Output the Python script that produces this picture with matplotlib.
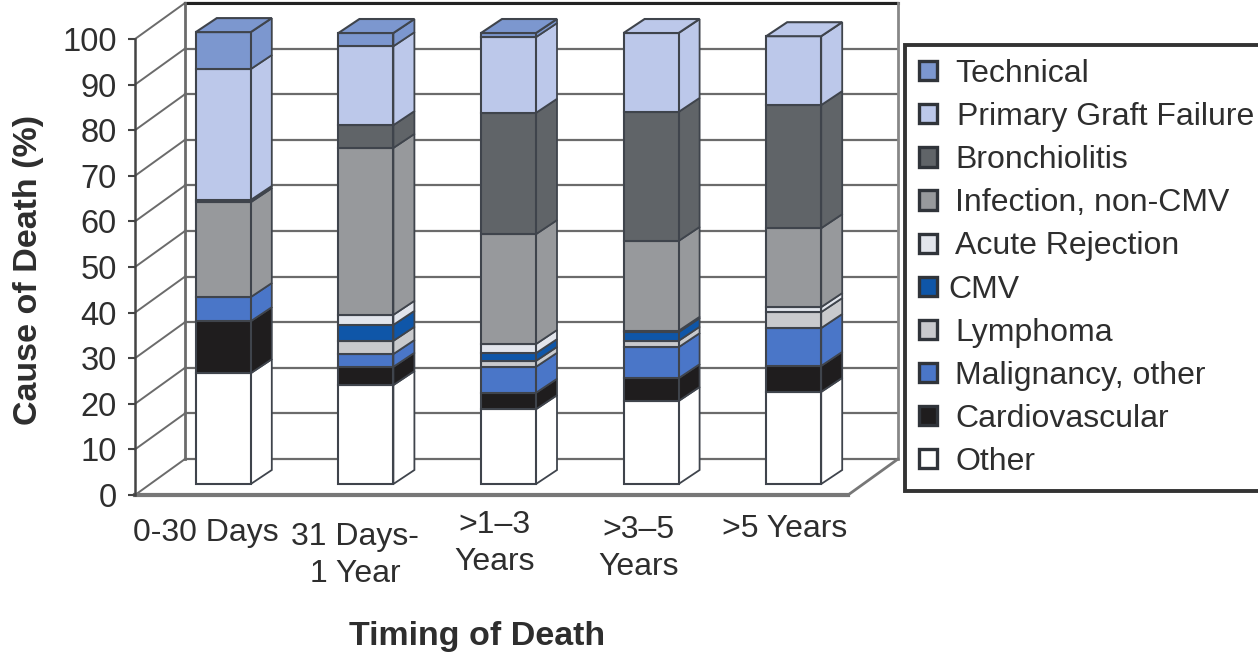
import matplotlib
matplotlib.use("Agg")
import matplotlib.pyplot as plt
import matplotlib.transforms as mtrans
from matplotlib.patches import Patch, Polygon
import numpy as np

plt.rcParams['font.family'] = ['Liberation Sans', 'DejaVu Sans']

categories = ["0-30 Days", "31 Days-\n1 Year", ">1–3\nYears", ">3–5\nYears", ">5 Years"]
other = [24.3, 21.7, 16.4, 18.2, 20.2]
cardiovascular = [11.4, 4.0, 3.6, 5.0, 5.7]
malignancy = [5.3, 2.8, 5.7, 6.8, 8.3]
lymphoma = [0, 2.9, 1.3, 1.4, 3.5]
cmv = [0, 3.5, 1.7, 1.9, 0]
acute = [0, 2.2, 2.0, 0.3, 1.1]
infection = [20.8, 36.6, 24.1, 19.7, 17.3]
bronchiolitis = [0.5, 5.0, 26.6, 28.3, 27.0]
pgf = [28.7, 17.3, 16.6, 17.3, 15.1]
technical = [8.1, 2.9, 0.9, 0, 0]

series = [
    ("Other", other, "#ffffff"),
    ("Cardiovascular", cardiovascular, "#1f1d1e"),
    ("Malignancy, other", malignancy, "#4a76c8"),
    ("Lymphoma", lymphoma, "#c9cacd"),
    ("CMV", cmv, "#0f56a8"),
    ("Acute Rejection", acute, "#e2e5ec"),
    ("Infection, non-CMV", infection, "#97999c"),
    ("Bronchiolitis", bronchiolitis, "#606468"),
    ("Primary Graft Failure", pgf, "#bcc8ea"),
    ("Technical", technical, "#7c97cf"),
]
tick_vals = list(range(0, 101, 10))

W, H = 1258, 655
fig = plt.figure(figsize=(W / 100, H / 100), dpi=100)
L, R, B, T = 135, 848, 495, 39
ax = fig.add_axes([L / W, 1 - B / H, (R - L) / W, (B - T) / H])
ax.set_xlim(0, 5)
ax.set_ylim(0, 100)
for s in ax.spines.values():
    s.set_visible(False)

px = 5 / (R - L)
py = 100 / (B - T)
WALL_X, WALL_Y = 50 * px, 36 * py
BAR_X, BAR_Y = 17 * px, 11 * py
BAR_W = 55 * px
SIDE_X, SIDE_Y = 21 * px, 14 * py
GRID = "#6b6b6b"
EDGE = "#3f444c"

# walls and floor
for v in tick_vals:
    ax.plot([WALL_X, 5 + WALL_X], [v + WALL_Y] * 2, color=GRID, lw=1.6, zorder=1, clip_on=False)
    ax.plot([0, WALL_X], [v, v + WALL_Y], color=GRID, lw=1.4, zorder=1, clip_on=False)
ax.plot([WALL_X, 5 + WALL_X], [100 + WALL_Y] * 2, color="#222222", lw=2.2, zorder=1, clip_on=False)
ax.plot([WALL_X, WALL_X], [WALL_Y, 100 + WALL_Y], color=GRID, lw=2, zorder=1, clip_on=False)
ax.plot([5 + WALL_X, 5 + WALL_X], [WALL_Y, 100 + WALL_Y], color="#888888", lw=2, zorder=1, clip_on=False)
ax.plot([5, 5 + WALL_X], [0, WALL_Y], color="#777777", lw=2, zorder=1, clip_on=False)
ax.plot([0, 5], [0, 0], color="#777777", lw=3, zorder=1, clip_on=False)
ax.plot([0, 0], [0, 100], color="#444444", lw=1.8, zorder=1, clip_on=False)

# stacked bars
xpos = np.arange(len(categories)) + 0.5
cum = np.zeros(len(categories))
for name, vals, col in series:
    vals = np.array(vals, float)
    for i, v in enumerate(vals):
        if v <= 0:
            continue
        x0 = xpos[i] + BAR_X
        y0 = cum[i] + BAR_Y
        xr = x0 + BAR_W / 2
        ax.add_patch(Polygon([(xr, y0), (xr + SIDE_X, y0 + SIDE_Y),
                              (xr + SIDE_X, y0 + v + SIDE_Y), (xr, y0 + v)],
                             closed=True, facecolor=col, edgecolor=EDGE, lw=1.3,
                             zorder=3, clip_on=False))
    mask = vals > 0
    ax.bar((xpos + BAR_X)[mask], vals[mask], width=BAR_W, bottom=(cum + BAR_Y)[mask],
           color=col, edgecolor=EDGE, linewidth=1.5, zorder=4, clip_on=False)
    cum = cum + vals

# top faces
for i in range(len(categories)):
    top_col = next(c for _, v, c in reversed(series) if v[i] > 0)
    x0 = xpos[i] + BAR_X - BAR_W / 2
    x1 = x0 + BAR_W
    yt = cum[i] + BAR_Y
    ax.add_patch(Polygon([(x0, yt), (x1, yt), (x1 + SIDE_X, yt + SIDE_Y), (x0 + SIDE_X, yt + SIDE_Y)],
                         closed=True, facecolor=top_col, edgecolor=EDGE, lw=1.5,
                         zorder=5, clip_on=False))

# axes text
TXT = "#2e2e2e"
ax.set_yticks(tick_vals)
ax.tick_params(axis='y', length=5, width=1.5, color="#444444", pad=8, labelsize=23.5, labelcolor=TXT)
ax.set_xticks(xpos, categories)
ax.tick_params(axis='x', length=0, pad=0, labelsize=23, labelcolor=TXT)
shifts = [(0, -23), (6, -27), (3, -15), (4, -20), (8, -19)]
for lab, (dx, dy) in zip(ax.get_xticklabels(), shifts):
    lab.set_linespacing(1.3)
    lab.set_transform(lab.get_transform() + mtrans.ScaledTranslation(dx / 100, dy / 100, fig.dpi_scale_trans))

fig.text(29 / W, 1 - 270 / H, "Cause of Death (%)", rotation=90, ha='center', va='center',
         fontsize=24.5, fontweight='bold', color=TXT)
fig.text(477 / W, 1 - 636 / H, "Timing of Death", ha='center', va='center',
         fontsize=24.5, fontweight='bold', color=TXT)

# legend
handles = [Patch(facecolor=c, edgecolor="#30343a", linewidth=2.4, label=n) for n, _, c in reversed(series)]
leg = fig.legend(handles=handles, loc='upper left', bbox_to_anchor=(905 / W, 1 - 45 / H),
                 fontsize=23, frameon=True, fancybox=False, edgecolor="#333333",
                 framealpha=1, borderpad=0.44, labelspacing=0.41, handlelength=0.55,
                 handleheight=0.55, handletextpad=0.58, borderaxespad=0, labelcolor=TXT)
leg.get_frame().set_linewidth(2.8)
leg.get_texts()[5].set_position((-7, 0))
leg.get_texts()[1].set_position((2, 0))

fig.savefig("out.png", dpi=100)
